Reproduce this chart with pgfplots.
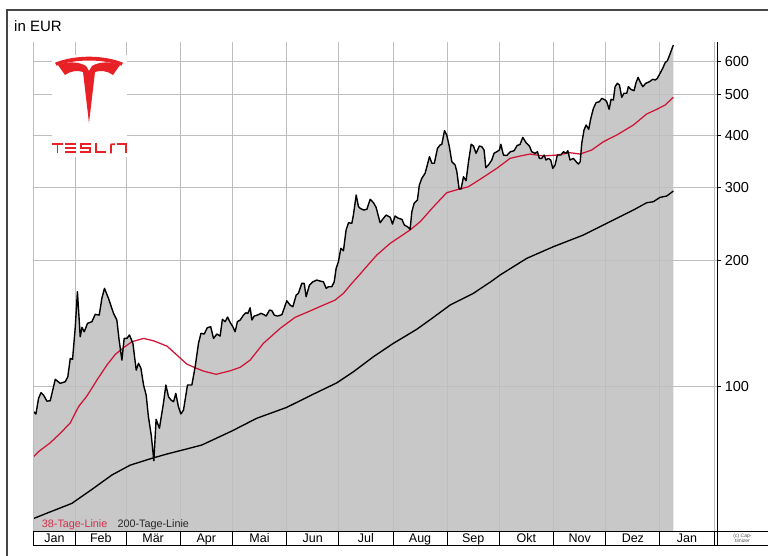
\documentclass[border=0pt]{standalone}
\usepackage{pgfplots}
\pgfplotsset{compat=1.18}
\usepgfplotslibrary{fillbetween}
\usepackage{pgfplotstable}
\usepackage{fontspec}
\setmainfont{Liberation Sans}
\definecolor{fillgray}{RGB}{200,200,200}
\definecolor{gridgray}{RGB}{190,190,190}
\definecolor{smared}{RGB}{208,18,52}
\definecolor{legred}{RGB}{212,48,74}
\definecolor{teslared}{RGB}{232,33,39}
\definecolor{framegray}{RGB}{70,70,70}

\pgfplotstableread{
d v
6.9 86.8
8.3 85.7
9.8 93.4
11.2 96.4
12.7 95.1
14.6 92.0
16.5 92.2
19.4 103.8
22.2 101.5
25.1 102.4
26.6 105.3
28.0 116.5
29.3 115.9
30.8 137.5
32.1 168.4
33.7 131.3
34.7 138.3
36.0 135.0
37.9 141.4
40.4 142.7
42.3 148.6
44.6 148.0
46.1 162.3
47.6 171.6
49.9 162.3
52.8 149.4
54.7 144.0
56.0 128.9
57.6 115.4
58.9 130.1
60.5 130.1
61.9 132.6
63.9 126.6
65.8 109.2
67.1 113.4
68.5 110.3
70.0 100.6
71.5 95.1
72.8 84.4
74.4 76.3
75.9 66.2
77.2 83.2
79.1 79.2
81.4 90.9
82.8 100.6
84.3 94.3
85.7 92.6
87.2 91.7
88.5 96.0
90.0 89.2
91.4 85.7
92.9 87.6
95.2 100.6
97.7 100.6
99.6 111.3
101.5 126.6
102.9 133.8
104.8 133.3
106.5 138.0
108.5 138.8
110.1 130.1
112.0 133.3
113.9 131.8
115.2 144.6
116.8 142.7
118.2 146.4
119.7 141.9
121.0 139.3
122.5 135.0
123.8 142.7
125.4 144.0
127.3 148.0
128.7 149.9
129.8 149.4
131.1 154.1
132.1 144.0
133.4 147.2
135.3 148.0
137.3 149.4
138.7 148.6
140.3 147.2
142.2 152.2
143.6 151.6
144.9 148.0
146.8 147.2
149.3 148.3
150.6 153.6
152.1 160.2
154.0 156.4
155.6 155.0
157.5 165.3
158.8 166.9
160.7 176.4
162.1 176.4
163.2 163.8
165.1 174.7
167.1 177.9
169.3 179.6
171.2 178.6
173.1 177.9
174.7 171.6
176.0 173.1
177.9 173.1
179.3 177.9
180.4 191.6
181.7 198.7
183.1 214.0
184.6 211.2
186.1 236.8
187.5 246.5
189.4 245.7
190.3 257.2
191.9 287.3
193.2 269.3
194.2 266.9
196.1 264.4
198.0 265.4
199.9 280.5
201.8 275.3
203.3 268.4
205.6 246.5
207.5 252.6
209.1 257.2
211.4 254.0
212.7 244.7
214.2 255.8
216.1 252.6
218.1 251.2
219.5 243.4
221.3 241.1
222.8 237.7
223.8 261.9
225.1 274.4
227.0 279.4
228.1 303.6
229.5 315.0
231.4 323.9
233.9 355.0
235.3 342.3
236.7 342.3
238.5 371.9
240.0 378.7
241.0 380.2
242.5 409.8
243.8 400.2
245.3 375.2
246.7 345.3
248.6 339.0
249.6 326.8
250.9 297.0
252.0 297.0
253.4 317.8
254.9 310.9
256.2 343.4
257.8 380.2
259.1 376.6
260.6 361.7
262.5 376.6
263.9 375.2
265.2 368.4
266.2 334.1
267.7 339.0
269.6 348.5
270.9 361.7
272.5 364.9
274.0 368.4
274.8 380.2
276.3 358.3
278.2 357.3
280.3 364.9
282.4 366.9
284.1 377.6
285.8 379.8
287.4 395.1
289.3 383.5
291.2 376.6
292.5 364.9
294.4 361.7
295.8 364.9
296.9 351.8
298.3 351.8
299.6 358.3
300.7 348.5
302.1 351.8
303.4 348.5
304.6 332.9
305.9 339.0
307.2 358.3
309.2 358.3
310.7 364.9
312.2 361.7
313.2 366.9
314.5 348.5
316.4 351.8
318.0 345.3
319.3 340.9
320.3 345.3
321.2 382.3
322.5 411.4
323.7 422.9
325.2 413.0
326.4 438.9
327.9 463.8
329.4 478.4
331.3 481.0
332.7 490.1
334.6 485.6
335.5 481.0
336.9 461.2
338.0 487.4
339.3 485.6
340.3 522.6
341.6 532.5
342.8 527.5
344.1 492.8
345.4 503.9
347.0 503.9
347.9 522.6
349.3 515.1
351.2 511.2
352.3 534.3
353.5 550.4
354.6 537.2
356.2 522.6
357.9 532.5
360.0 537.2
361.9 544.4
363.4 542.3
364.5 547.4
366.1 562.8
367.6 578.5
369.0 596.7
370.3 603.3
371.8 626.1
373.7 658.0
}\price

\pgfplotstableread{
d v
6.9 67.7
9.8 69.6
16.5 73.1
22.2 77.0
28.0 81.6
32.7 89.2
37.5 94.6
43.3 103.4
49.0 112.3
53.8 119.1
58.5 123.6
63.3 127.7
70.0 130.1
75.7 128.4
83.4 124.7
89.1 118.7
94.8 112.9
99.6 110.6
104.4 108.6
111.6 106.7
119.7 108.8
125.4 110.9
131.1 115.4
138.7 126.6
148.3 137.5
156.9 146.2
164.5 150.8
173.1 156.4
179.8 160.8
184.6 166.9
189.4 176.4
194.2 185.7
196.1 189.8
203.7 206.2
211.4 220.0
222.8 236.8
228.6 247.9
236.2 269.3
243.8 291.0
250.5 296.5
256.2 300.7
262.9 313.3
272.5 332.9
280.1 351.8
285.8 356.3
291.6 360.3
299.2 356.3
306.9 358.3
314.5 362.9
320.3 360.3
326.9 368.4
333.6 385.6
341.3 400.2
350.8 422.9
358.4 449.4
364.2 461.2
369.0 472.3
373.7 492.8
}\smaA

\pgfplotstableread{
d v
6.9 48.1
16.5 49.9
28.9 52.3
40.4 56.5
51.9 61.2
62.3 64.6
74.8 67.1
83.4 68.7
93.9 70.5
103.4 72.2
120.6 78.0
134.9 83.7
152.1 88.9
165.5 94.8
180.8 101.8
190.3 108.2
201.8 117.6
213.2 126.6
226.6 136.8
236.2 146.2
245.7 156.4
259.1 166.9
269.6 178.6
274.4 184.7
289.7 202.5
304.9 215.9
322.1 230.3
337.4 247.9
350.8 264.4
358.4 275.3
362.2 276.8
366.1 283.6
369.9 285.7
373.7 293.7
}\smaB

\begin{document}
\begin{tikzpicture}[x=1pt,y=1pt]
\draw[framegray, line width=1.2pt] (7,0) -- (7,546) -- (768,546);
\node[anchor=base west, inner sep=0pt, font=\fontsize{15}{15}\selectfont] at (14,524.3) {in EUR};

\begin{axis}[name=ax, at={(33.3pt,25pt)}, anchor=south west, scale only axis,
  width=684pt, height=489pt,
  xmin=6.8, xmax=398.9, ymode=log, ymin=44.9, ymax=669,
  set layers, axis line style={draw=none},
  xtick={31,60,91,121,152,182,213,244,274,305,335,366,397},
  xticklabels={,,,,,,,,,,,,},
  ytick={100,200,300,400,500,600}, yticklabels={100,200,300,400,500,600},
  ytick pos=right, yticklabel pos=right, tick align=outside,
  major tick length=4pt, tick style={black, line width=0.8pt},
  x tick style={draw=none},
  grid=major, major grid style={gridgray, line width=0.9pt},
  yticklabel style={font=\fontsize{14.5}{14.5}\selectfont, anchor=west},
]
\addplot[name path=pr, draw=none] table[x=d,y=v] {\price};
\addplot[draw=none, name path=base] coordinates {(6.9,44.9) (373.7,44.9)};
\addplot[fillgray] fill between[of=pr and base, on layer=axis background];
\addplot[black, line width=1.35pt] table[x=d,y=v] {\smaB};
\addplot[smared, line width=1.25pt] table[x=d,y=v] {\smaA};
\addplot[black, line width=1.4pt, line join=round] table[x=d,y=v] {\price};
\coordinate (m0) at (axis cs:6.8,100);
\coordinate (m1) at (axis cs:31,100);
\coordinate (m2) at (axis cs:60,100);
\coordinate (m3) at (axis cs:91,100);
\coordinate (m4) at (axis cs:121,100);
\coordinate (m5) at (axis cs:152,100);
\coordinate (m6) at (axis cs:182,100);
\coordinate (m7) at (axis cs:213,100);
\coordinate (m8) at (axis cs:244,100);
\coordinate (m9) at (axis cs:274,100);
\coordinate (m10) at (axis cs:305,100);
\coordinate (m11) at (axis cs:335,100);
\coordinate (m12) at (axis cs:366,100);
\coordinate (m13) at (axis cs:397,100);
\coordinate (l1) at (axis cs:18.9,100);
\coordinate (l2) at (axis cs:45.5,100);
\coordinate (l3) at (axis cs:75.5,100);
\coordinate (l4) at (axis cs:106,100);
\coordinate (l5) at (axis cs:136.5,100);
\coordinate (l6) at (axis cs:167,100);
\coordinate (l7) at (axis cs:197.5,100);
\coordinate (l8) at (axis cs:228.5,100);
\coordinate (l9) at (axis cs:259,100);
\coordinate (l10) at (axis cs:289.5,100);
\coordinate (l11) at (axis cs:320,100);
\coordinate (l12) at (axis cs:350.5,100);
\coordinate (l13) at (axis cs:381.5,100);
\end{axis}

% left border of plot
\draw[gridgray, line width=0.9pt] (m0 |- 0,25) -- (m0 |- 0,514);
% month row
\draw[black, line width=0.9pt] (m0 |- 0,25) -- (768,25);
\draw[black, line width=0.9pt] (m0 |- 0,11) -- (768,11);
\foreach \i in {0,...,13} {\draw[black, line width=0.9pt] (m\i |- 0,11) -- (m\i |- 0,25);}
\foreach \i/\t in {1/Jan,2/Feb,3/M\"ar,4/Apr,5/Mai,6/Jun,7/Jul,8/Aug,9/Sep,10/Okt,11/Nov,12/Dez,13/Jan}
  {\node[anchor=base, inner sep=0pt, font=\fontsize{12.5}{12.5}\selectfont] at (l\i |- 0,13.5) {\t};}
% right axis line
\draw[black, line width=1.4pt] (ax.north east) -- (ax.south east |- 0,11);
% copyright
\node[font=\fontsize{5}{5.5}\selectfont, text=black!70, align=center, inner sep=0pt] at (742.5,18) {(c) Cap-\\timizer};
% legend
\node[anchor=base west, inner sep=0pt, text=legred, font=\fontsize{10.8}{10.8}\selectfont] at (41.7,28.3) {38-Tage-Linie};
\node[anchor=base west, inner sep=0pt, text=black!85, font=\fontsize{10.8}{10.8}\selectfont] at (117.3,28.3) {200-Tage-Linie};

% logo
\fill[white] (52,399) rectangle (127,501);
\fill[teslared] (55,493.3) .. controls (75,501.3) and (103,501.3) .. (123,493.3) -- (121.5,490.3) .. controls (102,497.2) and (76,497.2) .. (56.5,490.3) -- cycle;
\fill[teslared] (58,491) .. controls (68,495) and (80,494) .. (86,490) -- (89,485) -- (92,490) .. controls (98,494) and (110,495) .. (120,491) -- (113,481) .. controls (108,485) and (100,486) .. (95,484) -- (89,433) -- (83,484) .. controls (78,486) and (70,485) .. (65,481) -- cycle;
\begin{scope}[teslared, line width=1.8pt, line cap=butt]
\draw (52.3,411.8) -- (62.7,411.8); \draw (57.5,411.8) -- (57.5,402.7);
\draw (65,411.8) -- (76,411.8); \draw (65,407.7) -- (76,407.7); \draw (65,403.6) -- (76,403.6);
\draw (90.7,411.8) -- (80.9,411.8) -- (80.9,407.7) -- (89.8,407.7) -- (89.8,403.6) -- (80,403.6);
\draw (95.9,412.7) -- (95.9,403.6) -- (106,403.6);
\draw (110.9,402.7) -- (110.9,409.5) .. controls (110.9,411.8) .. (113,411.8) -- (115,411.8);
\draw (117,411.8) -- (125.8,411.8) -- (125.8,402.7);
\end{scope}
\pgfresetboundingbox
\path[use as bounding box] (0,0) rectangle (768,556);
\end{tikzpicture}
\end{document}
